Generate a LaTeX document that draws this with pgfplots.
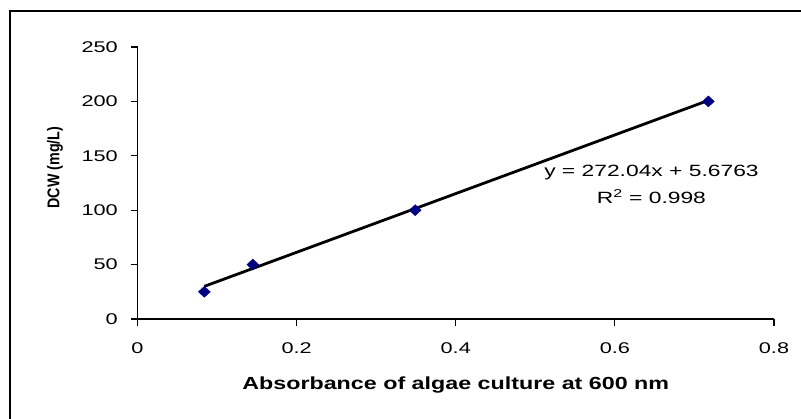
\documentclass[border=0pt]{standalone}
\usepackage{graphicx}
\usepackage{fontspec}
\setmainfont[FakeStretch=1.4]{Liberation Sans}
\newfontfamily\tickfont[FakeStretch=1.4]{Liberation Sans}
\newfontfamily\labfont[FakeStretch=1.33]{Liberation Sans}
\newfontfamily\plainsans{Liberation Sans}
\usepackage{pgfplots}
\pgfplotsset{compat=1.18}
\definecolor{excelnavy}{RGB}{0,0,128}
\begin{document}
\begin{tikzpicture}
\useasboundingbox (0,0) rectangle (801bp,419bp);
\draw[line width=2bp] (10bp,0) -- (10bp,408bp) -- (801bp,408bp);
\begin{axis}[
  at={(137.5bp,100bp)}, anchor=south west,
  scale only axis, width=636.5bp, height=272bp,
  xmin=0, xmax=0.8, ymin=0, ymax=250,
  axis x line*=bottom, axis y line*=left,
  axis line style={line width=1.3bp, black},
  xtick={0,0.2,0.4,0.6,0.8}, ytick={0,50,100,150,200,250},
  xticklabels={0,0.2,0.4,0.6,0.8},
  yticklabels={0,50,100,150,200,250},
  tick align=outside, major tick length=7bp,
  tick style={line width=1.1bp, black},
  /pgf/number format/assume math mode=true,
  ticklabel style={font=\fontsize{15.5bp}{18bp}\selectfont\tickfont},
  xticklabel style={anchor=base, inner sep=0pt, yshift=-27bp},
  yticklabel style={anchor=east, inner sep=0pt, xshift=-12.5bp},
  xlabel={\labfont\bfseries Absorbance of algae culture at 600 nm},
  xlabel style={font=\fontsize{17.5bp}{20bp}\selectfont, at={(axis description cs:0.5,-0.261)}, anchor=base, inner sep=0pt},
  ylabel={\scalebox{0.84}[1]{\fontsize{17bp}{20bp}\selectfont\plainsans\bfseries DCW (mg/L)}},
  ylabel style={at={(axis description cs:-0.1296,0.557)}, anchor=center, inner sep=0pt},
  clip=false,
]
\addplot[no marks, line width=2.8bp, black] coordinates {(0.084,30) (0.7175,200.9)};
\addplot[only marks, mark=diamond*, mark size=5.5bp, color=excelnavy,
  every mark/.append style={xscale=1.45}] coordinates {
  (0.084,25) (0.145,50) (0.349,100) (0.7175,200)};
\node[anchor=base, inner sep=0pt, font=\fontsize{16.3bp}{19bp}\selectfont] at (axis cs:0.646,130.8) {y = 272.04x + 5.6763};
\node[anchor=base, inner sep=0pt, font=\fontsize{16.3bp}{19bp}\selectfont] at (axis cs:0.646,105.7) {R\textsuperscript{2} = 0.998};
\end{axis}
\end{tikzpicture}
\end{document}
